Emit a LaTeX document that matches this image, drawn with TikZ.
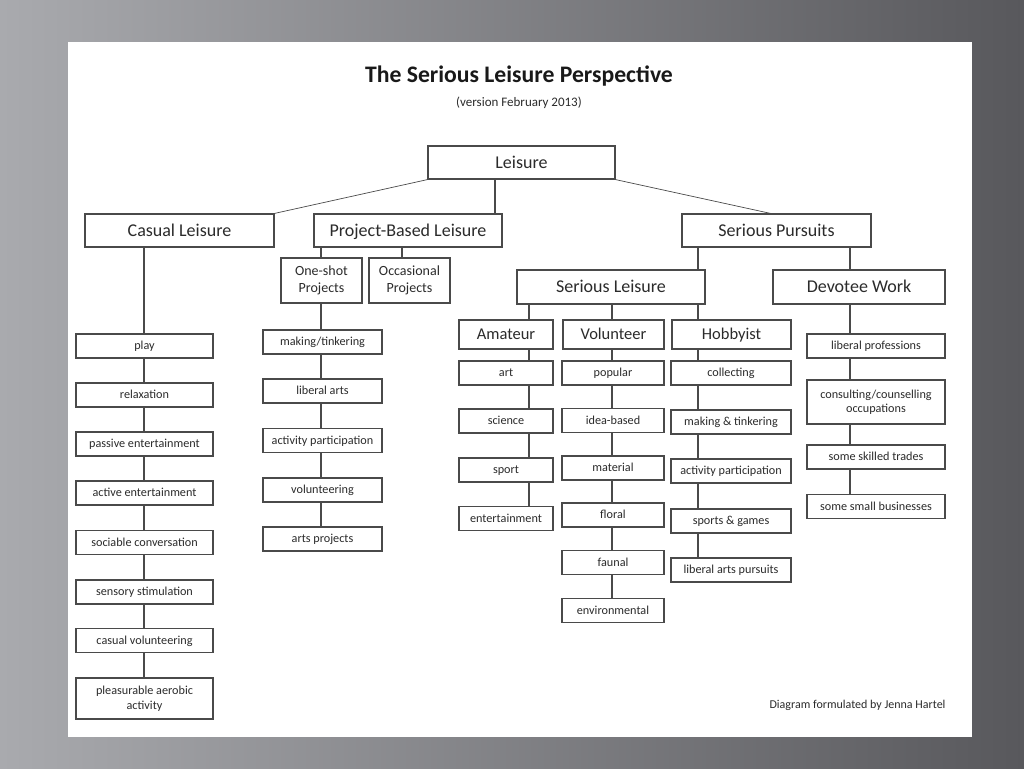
\documentclass[tikz,border=0pt]{standalone}
\usepackage{fontspec}
\setmainfont{Carlito}
\usetikzlibrary{calc}
\definecolor{bgl}{HTML}{A9AAAE}
\definecolor{bgd}{HTML}{58585C}
\definecolor{edge}{HTML}{4A4A4A}
\definecolor{ink}{HTML}{2B2B2B}
\tikzset{%
    bx/.style={rectangle, draw=edge, line width=1.2pt, fill=white, text=ink, inner sep=0pt, align=center},
    bxb/.style={bx, text height=14.6pt, text depth=3.6pt, font=\fontsize{18}{20}\selectfont, minimum height=33},
    bxm/.style={bx, text height=13.4pt, text depth=3.3pt, font=\fontsize{16.5}{19}\selectfont, minimum height=29},
    bxs/.style={bx, text height=9.9pt, text depth=2.4pt, font=\fontsize{12.2}{14}\selectfont, minimum height=24},
    bxt/.style={bx, font=\fontsize{12.2}{14.5}\selectfont},
    lnk/.style={draw=edge, line width=1.2pt},
    lnkt/.style={draw=edge, line width=0.7pt},
}
\begin{document}
\begin{tikzpicture}[x=1pt, y=-1pt]
    \useasboundingbox (0,0) rectangle (1024,768);
    \shade[left color=bgl, right color=bgd] (0,0) rectangle (1024,768);
    \fill[white] (68,42) rectangle (972,737);
    \node[font=\bfseries\fontsize{23.7}{26}\selectfont, text=black!90] (ttl) at (519,76) {The Serious Leisure Perspective};
    \node[font=\fontsize{13}{15}\selectfont, text=ink] (ver) at (519,103) {(version February 2013)};
    % top levels
    \node[bxb, minimum width=187] (lei) at (521.5,162.5) {Leisure};
    \node[bxb, minimum width=189] (cas) at (179.5,230.5) {Casual Leisure};
    \node[bxb, minimum width=188] (pbl) at (408,230.5) {Project-Based Leisure};
    \node[bxb, minimum width=189] (sp) at (776.5,230.5) {Serious Pursuits};
    \node[bx, font=\fontsize{14}{17}\selectfont, minimum width=81, minimum height=45] (one) at (321.5,280.5) {One-shot\\Projects};
    \node[bx, font=\fontsize{14}{17}\selectfont, minimum width=81, minimum height=45] (occ) at (409.5,280.5) {Occasional\\Projects};
    \node[bxb, minimum width=188, minimum height=34] (sl) at (611,287) {Serious Leisure};
    \node[bxb, minimum width=172, minimum height=34] (dw) at (859,287) {Devotee Work};
    \node[bxm, minimum width=94] (am) at (506,334.5) {Amateur};
    \node[bxm, minimum width=101] (vo) at (613.5,334.5) {Volunteer};
    \node[bxm, minimum width=119] (ho) at (731.5,334.5) {Hobbyist};
    % casual leisure
    \node[bxs, minimum width=137] (c1) at (144.5,346) {play};
    \node[bxs, minimum width=137] (c2) at (144.5,395) {relaxation};
    \node[bxs, minimum width=137] (c3) at (144.5,444) {passive entertainment};
    \node[bxs, minimum width=137] (c4) at (144.5,493) {active entertainment};
    \node[bxs, minimum width=137] (c5) at (144.5,542.5) {sociable conversation};
    \node[bxs, minimum width=137] (c6) at (144.5,592) {sensory stimulation};
    \node[bxs, minimum width=137] (c7) at (144.5,640.5) {casual volunteering};
    \node[bxt, minimum width=137, minimum height=41] (c8) at (144.5,698.5) {pleasurable aerobic\\activity};
    % project-based
    \node[bxs, minimum width=119] (p1) at (322.5,342) {making/tinkering};
    \node[bxs, minimum width=119] (p2) at (322.5,391) {liberal arts};
    \node[bxs, minimum width=119] (p3) at (322.5,440.5) {activity participation};
    \node[bxs, minimum width=119] (p4) at (322.5,490) {volunteering};
    \node[bxs, minimum width=119] (p5) at (322.5,539) {arts projects};
    % amateur
    \node[bxs, minimum width=94] (a1) at (506,373) {art};
    \node[bxs, minimum width=94] (a2) at (506,421) {science};
    \node[bxs, minimum width=94] (a3) at (506,470) {sport};
    \node[bxs, minimum width=94] (a4) at (506,518.5) {entertainment};
    % volunteer
    \node[bxs, minimum width=102] (v1) at (613,373) {popular};
    \node[bxs, minimum width=102] (v2) at (613,420.5) {idea-based};
    \node[bxs, minimum width=102] (v3) at (613,468) {material};
    \node[bxs, minimum width=102] (v4) at (613,515) {floral};
    \node[bxs, minimum width=102] (v5) at (613,562.5) {faunal};
    \node[bxs, minimum width=102] (v6) at (613,610.5) {environmental};
    % hobbyist
    \node[bxs, minimum width=120] (h1) at (731,373) {collecting};
    \node[bxs, minimum width=120] (h2) at (731,422) {making \& tinkering};
    \node[bxs, minimum width=120] (h3) at (731,471) {activity participation};
    \node[bxs, minimum width=120] (h4) at (731,521) {sports \& games};
    \node[bxs, minimum width=120] (h5) at (731,570) {liberal arts pursuits};
    % devotee work
    \node[bxs, minimum width=138] (d1) at (876,346) {liberal professions};
    \node[bxt, minimum width=138, minimum height=44] (d2) at (876,402) {consulting/counselling\\occupations};
    \node[bxs, minimum width=138] (d3) at (876,457) {some skilled trades};
    \node[bxs, minimum width=138] (d4) at (876,506.5) {some small businesses};
    \node[font=\fontsize{12}{14}\selectfont, text=ink, anchor=east] (by) at (949,705) {Diagram formulated by Jenna Hartel};
    % connectors
    \coordinate (xc) at (144,0);
    \coordinate (xp) at (321,0);
    \coordinate (xo) at (402,0);
    \coordinate (xl) at (495,0);
    \coordinate (xs) at (698,0);
    \coordinate (xd) at (850,0);
    \coordinate (xa) at (529,0);
    \coordinate (xv) at (612,0);
    \coordinate (spt) at ($(sp.north)+(-6,0)$);
    \draw[lnkt] (lei.south west) -- (cas.north east);
    \draw[lnkt] (lei.south east) -- (spt);
    \draw[lnk] (lei.south -| xl) -- (pbl.north -| xl);
    \draw[lnk] (pbl.south -| xp) -- (one.north -| xp);
    \draw[lnk] (pbl.south -| xo) -- (occ.north -| xo);
    \draw[lnk] (sp.south -| xs) -- (sl.north -| xs);
    \draw[lnk] (sp.south -| xd) -- (dw.north -| xd);
    \draw[lnk] (sl.south -| xa) -- (am.north -| xa);
    \draw[lnk] (sl.south -| xv) -- (vo.north -| xv);
    \draw[lnk] (sl.south -| xs) -- (ho.north -| xs);
    \foreach \a/\b in {cas/c1,c1/c2,c2/c3,c3/c4,c4/c5,c5/c6,c6/c7,c7/c8}
        \draw[lnk] (\a.south -| xc) -- (\b.north -| xc);
    \foreach \a/\b in {one/p1,p1/p2,p2/p3,p3/p4,p4/p5}
        \draw[lnk] (\a.south -| xp) -- (\b.north -| xp);
    \foreach \a/\b in {am/a1,a1/a2,a2/a3,a3/a4}
        \draw[lnk] (\a.south -| xa) -- (\b.north -| xa);
    \foreach \a/\b in {vo/v1,v1/v2,v2/v3,v3/v4,v4/v5,v5/v6}
        \draw[lnk] (\a.south -| xv) -- (\b.north -| xv);
    \foreach \a/\b in {ho/h1,h1/h2,h2/h3,h3/h4,h4/h5}
        \draw[lnk] (\a.south -| xs) -- (\b.north -| xs);
    \foreach \a/\b in {dw/d1,d1/d2,d2/d3,d3/d4}
        \draw[lnk] (\a.south -| xd) -- (\b.north -| xd);
\end{tikzpicture}
\end{document}
